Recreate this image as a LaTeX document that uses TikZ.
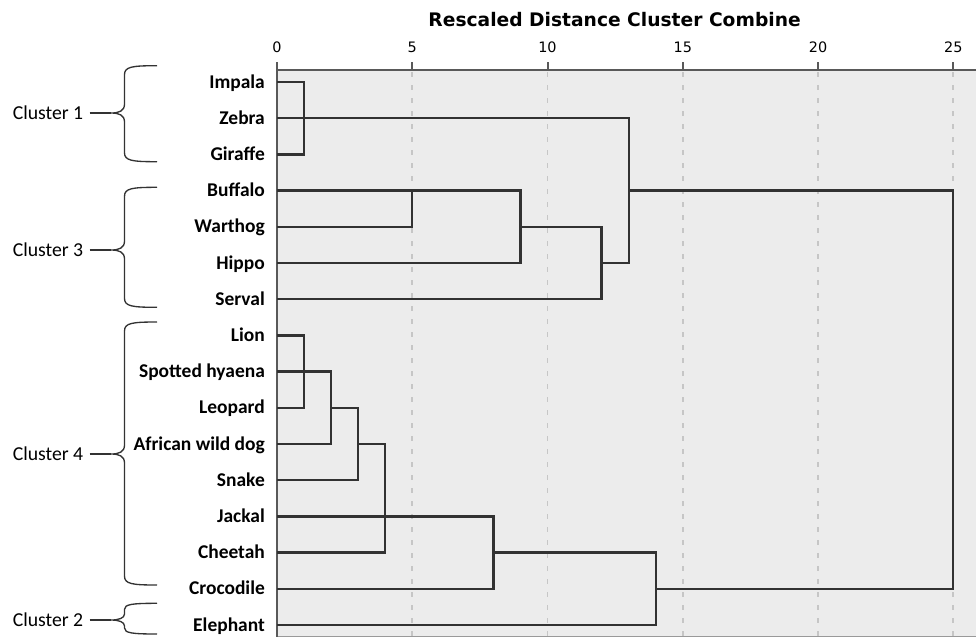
\documentclass[tikz,border=0pt]{standalone}
\usepackage{fontspec}
\setmainfont{Carlito}
\newfontfamily\verdfont{DejaVu Sans}
\usepackage{tikz}
\usetikzlibrary{positioning}
\definecolor{plotbg}{RGB}{236,236,236}
\definecolor{linkgray}{RGB}{50,50,50}
\definecolor{gridgray}{RGB}{198,198,198}
\tikzset{
	leafnode/.style={anchor=base east, inner sep=0pt, font=\fontsize{14.6}{16}\selectfont\bfseries},
	clusternode/.style={anchor=base east, inner sep=0pt, font=\fontsize{14.8}{16}\selectfont},
	ticknode/.style={anchor=base, inner sep=0pt, font=\verdfont\fontsize{10.8}{12}\selectfont},
	titlenode/.style={anchor=base, inner sep=0pt, font=\verdfont\bfseries\fontsize{14}{16}\selectfont},
	link/.style={draw=linkgray, line width=1.7pt, line join=miter},
	gridline/.style={draw=gridgray, line width=1.4pt, dash pattern=on 3.75pt off 6pt},
	axisline/.style={draw=black!65, line width=1.5pt},
	clbrace/.style={draw=black!80, line width=1pt}
}

\begin{document}
\begin{tikzpicture}[x=0.75pt, y=-0.75pt]
	\useasboundingbox (0,0) rectangle (976,637);
	\node[titlenode] at (614.6,26) (title) {Rescaled Distance Cluster Combine};
	\begin{scope}[shift={(277,0)}, xscale=27.05]
		\fill[plotbg] (0,70) rectangle (25.85,637);
		\foreach \d in {5,10,...,25}
			\draw[gridline] (\d,72) -- (\d,636);
		\draw[axisline, draw=black!40, line width=1pt] (0,636.3) -- (25.85,636.3);
		\draw[axisline] (0,70) -- (25.85,70);
		\draw[axisline] (0,62) -- (0,637);
		\foreach \d in {5,10,...,25}
			\draw[axisline] (\d,62) -- (\d,70);
		\foreach \d in {0,5,...,25}
			\node[ticknode] at (\d,52.3) (tick\d) {\d};
	\end{scope}
	\begin{scope}[shift={(277,82)}, xscale=27.05, yscale=36.2]
		\foreach \lab [count=\i from 0] in {Impala, Zebra, Giraffe, Buffalo, Warthog, Hippo, Serval, Lion, Spotted hyaena, Leopard, African wild dog, Snake, Jackal, Cheetah, Crocodile, Elephant}
			\node[leafnode] at (-0.44,\i+0.166) (leaf\i) {\lab};
		\draw[link] (0,0) -- (1,0) -- (1,2) -- (0,2);
		\draw[link] (0,1) -- (13,1) -- (13,5) -- (12,5);
		\draw[link] (0,3) -- (9,3) -- (9,5) -- (0,5);
		\draw[link] (5,3) -- (5,4) -- (0,4);
		\draw[link] (9,4) -- (12,4) -- (12,6) -- (0,6);
		\draw[link] (13,3) -- (25,3) -- (25,14) -- (14,14);
		\draw[link] (0,7) -- (1,7) -- (1,9) -- (0,9);
		\draw[link] (0,8) -- (2,8) -- (2,10) -- (0,10);
		\draw[link] (2,9) -- (3,9) -- (3,11) -- (0,11);
		\draw[link] (3,10) -- (4,10) -- (4,13) -- (0,13);
		\draw[link] (0,12) -- (8,12) -- (8,14) -- (0,14);
		\draw[link] (8,13) -- (14,13) -- (14,15) -- (0,15);
	\end{scope}
	\foreach \ya/\ym/\yb/\r/\k in {65.7/113/161.7/9/1, 187.3/250/307.3/9/3, 322/454/585/9/4, 603.3/620/634/6/2}{
		\draw[clbrace] (157,\ya) .. controls (132,\ya) and (124.5,\ya+1) .. (124.5,\ya+\r) -- (124.5,\ym-\r) .. controls (124.5,\ym-2) and (119,\ym) .. (111,\ym) .. controls (119,\ym) and (124.5,\ym+2) .. (124.5,\ym+\r) -- (124.5,\yb-\r) .. controls (124.5,\yb-1) and (132,\yb) .. (157,\yb);
		\coordinate (tip\k) at (111,\ym);
		\node[clusternode] at (83.5,\ym+6.5) (cl\k) {Cluster \k};
		\draw[clbrace] ([xshift=4.5pt]tip\k -| cl\k.east) -- (tip\k);
	}
\end{tikzpicture}
\end{document}
